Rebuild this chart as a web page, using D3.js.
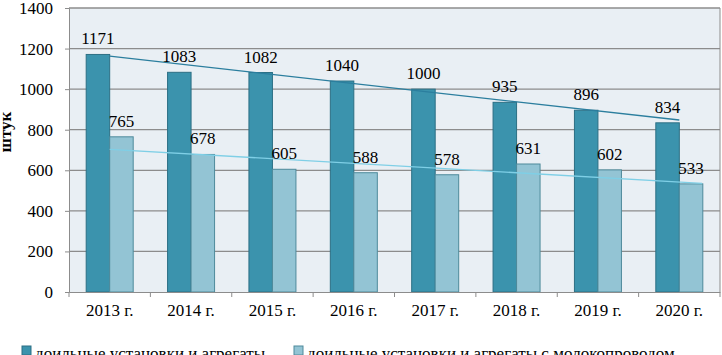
<!DOCTYPE html>
<html>
<head>
<meta charset="utf-8">
<script src="https://cdn.jsdelivr.net/npm/d3@7"></script>
<style>
  body { margin: 0; background: #fff; }
  svg { display: block; }
  svg text { font-family: "Liberation Serif", "Times New Roman", Times, serif; }
</style>
</head>
<body>
<div id="chart"></div>
<script>
const years = ['2013 г.', '2014 г.', '2015 г.', '2016 г.', '2017 г.', '2018 г.', '2019 г.', '2020 г.'];
const milking = [1171, 1083, 1082, 1040, 1000, 935, 896, 834];
const pipeline = [765, 678, 605, 588, 578, 631, 602, 533];
const yTicks = [0, 200, 400, 600, 800, 1000, 1200, 1400];
const seriesNames = ['доильные установки и агрегаты', 'доильные установки и агрегаты с молокопроводом'];

const width = 722, height = 355;
const plot = { left: 69, right: 720, top: 8, bottom: 292 };

const svg = d3.select('#chart').append('svg')
  .attr('width', width)
  .attr('height', height);

const x = d3.scaleBand().domain(years).range([plot.left, plot.right]).paddingInner(0).paddingOuter(0);
const y = d3.scaleLinear().domain([0, 1400]).range([plot.bottom, plot.top]);
const barW = 23.5;

// plot background
svg.append('rect')
  .attr('x', plot.left).attr('y', plot.top)
  .attr('width', plot.right - plot.left).attr('height', plot.bottom - plot.top)
  .attr('fill', '#e9eff4');

// gridlines
svg.append('g').selectAll('line')
  .data(yTicks.filter(d => d > 0))
  .enter().append('line')
  .attr('x1', plot.left).attr('x2', plot.right)
  .attr('y1', d => y(d)).attr('y2', d => y(d))
  .attr('stroke', '#8c8c8c').attr('stroke-width', 1.3);

// right border
svg.append('line')
  .attr('x1', plot.right).attr('x2', plot.right)
  .attr('y1', plot.top).attr('y2', plot.bottom)
  .attr('stroke', '#8c8c8c');

// bars
const groups = [
  { values: milking, off: -barW, fill: '#3b93ad', stroke: '#2c6f84' },
  { values: pipeline, off: 0, fill: '#93c4d4', stroke: '#4e8a9b' }
];
groups.forEach(s => {
  svg.append('g').selectAll('rect')
    .data(s.values)
    .enter().append('rect')
    .attr('x', (d, i) => x(years[i]) + x.bandwidth() / 2 + s.off)
    .attr('y', d => y(d))
    .attr('width', barW)
    .attr('height', d => plot.bottom - y(d))
    .attr('fill', s.fill)
    .attr('stroke', s.stroke)
    .attr('stroke-width', 1);
});

// linear trend lines (least squares on the data)
function trend(values) {
  const mx = d3.mean(values, (d, i) => i);
  const my = d3.mean(values);
  const sxy = d3.sum(values, (d, i) => (i - mx) * (d - my));
  const sxx = d3.sum(values, (d, i) => (i - mx) * (i - mx));
  const b = sxy / sxx;
  return i => my + b * (i - mx);
}
const xi = d3.scaleLinear().domain([0, 7]).range([x(years[0]) + x.bandwidth() / 2, x(years[7]) + x.bandwidth() / 2]);
[
  { values: milking, end: 7, color: '#2b7e9e' },
  { values: pipeline, end: 7.28, color: '#7fcfe6' }
].forEach(t => {
  const f = trend(t.values);
  svg.append('line')
    .attr('x1', xi(0)).attr('y1', y(f(0)))
    .attr('x2', xi(t.end)).attr('y2', y(f(t.end)))
    .attr('stroke', t.color).attr('stroke-width', 1.3);
});

// value labels
groups.forEach(s => {
  svg.append('g').selectAll('text')
    .data(s.values)
    .enter().append('text')
    .attr('x', (d, i) => x(years[i]) + x.bandwidth() / 2 + s.off + barW / 2)
    .attr('y', d => y(d) - 10)
    .attr('text-anchor', 'middle')
    .attr('font-size', 17)
    .attr('fill', '#000')
    .text(d => d);
});

// y axis
const yAxis = svg.append('g')
  .attr('transform', `translate(${plot.left},0)`)
  .call(d3.axisLeft(y).tickValues(yTicks).tickFormat(d3.format('d')).tickSize(4).tickPadding(12));
yAxis.attr('font-family', null);
yAxis.select('.domain').attr('stroke', '#8c8c8c');
yAxis.selectAll('.tick line').attr('stroke', '#8c8c8c');
yAxis.selectAll('text').attr('font-size', 17).attr('fill', '#000');

// x axis
const xAxis = svg.append('g')
  .attr('transform', `translate(0,${plot.bottom})`)
  .call(d3.axisBottom(x).tickSize(0).tickPadding(12));
xAxis.attr('font-family', null);
xAxis.select('.domain').attr('stroke', '#8c8c8c');
xAxis.selectAll('text').attr('font-size', 17).attr('fill', '#000');
svg.append('g').selectAll('line')
  .data(d3.range(years.length + 1))
  .enter().append('line')
  .attr('x1', i => plot.left + i * x.bandwidth())
  .attr('x2', i => plot.left + i * x.bandwidth())
  .attr('y1', plot.bottom).attr('y2', plot.bottom + 5)
  .attr('stroke', '#8c8c8c');

// y axis title
svg.append('text')
  .attr('transform', 'translate(11,132) rotate(-90)')
  .attr('text-anchor', 'middle')
  .attr('font-size', 17)
  .attr('font-weight', 'bold')
  .text('штук');

// legend
const legendX = [22, 294];
seriesNames.forEach((name, i) => {
  const g = svg.append('g').attr('transform', `translate(${legendX[i]},346)`);
  g.append('rect')
    .attr('width', 9).attr('height', 9)
    .attr('fill', groups[i].fill)
    .attr('stroke', groups[i].stroke);
  g.append('text')
    .attr('x', 13).attr('y', 13)
    .attr('font-size', 17)
    .text(name);
});
</script>
</body>
</html>
